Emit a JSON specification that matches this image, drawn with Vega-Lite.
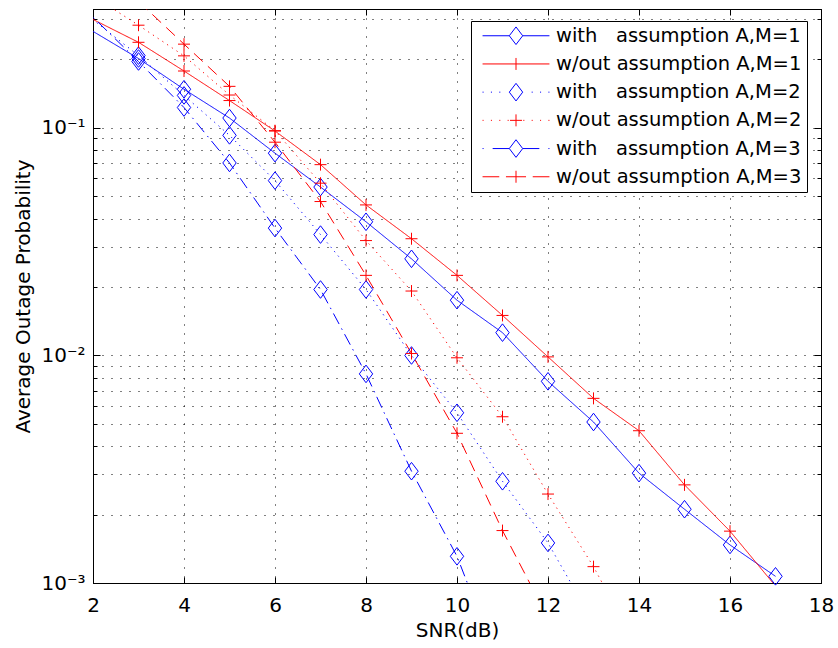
{
  "$schema": "https://vega.github.io/schema/vega-lite/v6.json",
  "width": 728,
  "height": 574,
  "autosize": {"type": "none"},
  "padding": {"left": 93, "top": 9, "right": 17, "bottom": 65},
  "background": "white",
  "config": {
    "view": {"stroke": "#000", "strokeWidth": 1},
    "font": "DejaVu Sans",
    "axis": {
      "domainColor": "#000", "tickColor": "#000", "labelColor": "#000", "titleColor": "#000",
      "labelFont": "DejaVu Sans", "titleFont": "DejaVu Sans", "labelFontSize": 20, "titleFontSize": 20,
      "titleFontWeight": "normal", "labelFlush": false, "labelOverlap": false, "labelBound": false,
      "gridColor": "#000", "gridDash": [1, 8], "gridOpacity": 1, "gridWidth": 1, "tickWidth": 1, "domainWidth": 1
    }
  },
  "data": {"values": [
    {"s": "with\u00a0\u00a0\u00a0assumption A,M=1", "x": 1, "y": 0.350},
    {"s": "with\u00a0\u00a0\u00a0assumption A,M=1", "x": 3, "y": 0.202},
    {"s": "with\u00a0\u00a0\u00a0assumption A,M=1", "x": 4, "y": 0.148},
    {"s": "with\u00a0\u00a0\u00a0assumption A,M=1", "x": 5, "y": 0.1106},
    {"s": "with\u00a0\u00a0\u00a0assumption A,M=1", "x": 6, "y": 0.0775},
    {"s": "with\u00a0\u00a0\u00a0assumption A,M=1", "x": 7, "y": 0.055},
    {"s": "with\u00a0\u00a0\u00a0assumption A,M=1", "x": 8, "y": 0.0387},
    {"s": "with\u00a0\u00a0\u00a0assumption A,M=1", "x": 9, "y": 0.0266},
    {"s": "with\u00a0\u00a0\u00a0assumption A,M=1", "x": 10, "y": 0.0175},
    {"s": "with\u00a0\u00a0\u00a0assumption A,M=1", "x": 11, "y": 0.0126},
    {"s": "with\u00a0\u00a0\u00a0assumption A,M=1", "x": 12, "y": 0.0077},
    {"s": "with\u00a0\u00a0\u00a0assumption A,M=1", "x": 13, "y": 0.0051},
    {"s": "with\u00a0\u00a0\u00a0assumption A,M=1", "x": 14, "y": 0.00304},
    {"s": "with\u00a0\u00a0\u00a0assumption A,M=1", "x": 15, "y": 0.00211},
    {"s": "with\u00a0\u00a0\u00a0assumption A,M=1", "x": 16, "y": 0.00147},
    {"s": "with\u00a0\u00a0\u00a0assumption A,M=1", "x": 17, "y": 0.00107},
    {"s": "w/out assumption A,M=1", "x": 1, "y": 0.378},
    {"s": "w/out assumption A,M=1", "x": 3, "y": 0.238},
    {"s": "w/out assumption A,M=1", "x": 4, "y": 0.178},
    {"s": "w/out assumption A,M=1", "x": 5, "y": 0.132},
    {"s": "w/out assumption A,M=1", "x": 6, "y": 0.097},
    {"s": "w/out assumption A,M=1", "x": 7, "y": 0.069},
    {"s": "w/out assumption A,M=1", "x": 8, "y": 0.0459},
    {"s": "w/out assumption A,M=1", "x": 9, "y": 0.0326},
    {"s": "w/out assumption A,M=1", "x": 10, "y": 0.0225},
    {"s": "w/out assumption A,M=1", "x": 11, "y": 0.0150},
    {"s": "w/out assumption A,M=1", "x": 12, "y": 0.00986},
    {"s": "w/out assumption A,M=1", "x": 13, "y": 0.00648},
    {"s": "w/out assumption A,M=1", "x": 14, "y": 0.00467},
    {"s": "w/out assumption A,M=1", "x": 15, "y": 0.0027},
    {"s": "w/out assumption A,M=1", "x": 16, "y": 0.00169},
    {"s": "w/out assumption A,M=1", "x": 17, "y": 0.00097},
    {"s": "with\u00a0\u00a0\u00a0assumption A,M=2", "x": 1, "y": 0.43},
    {"s": "with\u00a0\u00a0\u00a0assumption A,M=2", "x": 3, "y": 0.208},
    {"s": "with\u00a0\u00a0\u00a0assumption A,M=2", "x": 4, "y": 0.139},
    {"s": "with\u00a0\u00a0\u00a0assumption A,M=2", "x": 5, "y": 0.0928},
    {"s": "with\u00a0\u00a0\u00a0assumption A,M=2", "x": 6, "y": 0.0587},
    {"s": "with\u00a0\u00a0\u00a0assumption A,M=2", "x": 7, "y": 0.034},
    {"s": "with\u00a0\u00a0\u00a0assumption A,M=2", "x": 8, "y": 0.0195},
    {"s": "with\u00a0\u00a0\u00a0assumption A,M=2", "x": 9, "y": 0.0100},
    {"s": "with\u00a0\u00a0\u00a0assumption A,M=2", "x": 10, "y": 0.0056},
    {"s": "with\u00a0\u00a0\u00a0assumption A,M=2", "x": 11, "y": 0.0028},
    {"s": "with\u00a0\u00a0\u00a0assumption A,M=2", "x": 12, "y": 0.0015},
    {"s": "with\u00a0\u00a0\u00a0assumption A,M=2", "x": 13, "y": 0.00067},
    {"s": "w/out assumption A,M=2", "x": 1, "y": 0.51},
    {"s": "w/out assumption A,M=2", "x": 3, "y": 0.283},
    {"s": "w/out assumption A,M=2", "x": 4, "y": 0.2075},
    {"s": "w/out assumption A,M=2", "x": 5, "y": 0.1396},
    {"s": "w/out assumption A,M=2", "x": 6, "y": 0.0973},
    {"s": "w/out assumption A,M=2", "x": 7, "y": 0.0572},
    {"s": "w/out assumption A,M=2", "x": 8, "y": 0.032},
    {"s": "w/out assumption A,M=2", "x": 9, "y": 0.0192},
    {"s": "w/out assumption A,M=2", "x": 10, "y": 0.00977},
    {"s": "w/out assumption A,M=2", "x": 11, "y": 0.00538},
    {"s": "w/out assumption A,M=2", "x": 12, "y": 0.00246},
    {"s": "w/out assumption A,M=2", "x": 13, "y": 0.00118},
    {"s": "w/out assumption A,M=2", "x": 14, "y": 0.0005},
    {"s": "with\u00a0\u00a0\u00a0assumption A,M=3", "x": 1, "y": 0.48},
    {"s": "with\u00a0\u00a0\u00a0assumption A,M=3", "x": 3, "y": 0.196},
    {"s": "with\u00a0\u00a0\u00a0assumption A,M=3", "x": 4, "y": 0.123},
    {"s": "with\u00a0\u00a0\u00a0assumption A,M=3", "x": 5, "y": 0.0702},
    {"s": "with\u00a0\u00a0\u00a0assumption A,M=3", "x": 6, "y": 0.0363},
    {"s": "with\u00a0\u00a0\u00a0assumption A,M=3", "x": 7, "y": 0.0195},
    {"s": "with\u00a0\u00a0\u00a0assumption A,M=3", "x": 8, "y": 0.0083},
    {"s": "with\u00a0\u00a0\u00a0assumption A,M=3", "x": 9, "y": 0.0031},
    {"s": "with\u00a0\u00a0\u00a0assumption A,M=3", "x": 10, "y": 0.00131},
    {"s": "with\u00a0\u00a0\u00a0assumption A,M=3", "x": 11, "y": 0.0004},
    {"s": "w/out assumption A,M=3", "x": 3, "y": 0.36},
    {"s": "w/out assumption A,M=3", "x": 4, "y": 0.2336},
    {"s": "w/out assumption A,M=3", "x": 5, "y": 0.1524},
    {"s": "w/out assumption A,M=3", "x": 6, "y": 0.0866},
    {"s": "w/out assumption A,M=3", "x": 7, "y": 0.0475},
    {"s": "w/out assumption A,M=3", "x": 8, "y": 0.0225},
    {"s": "w/out assumption A,M=3", "x": 9, "y": 0.0102},
    {"s": "w/out assumption A,M=3", "x": 10, "y": 0.00455},
    {"s": "w/out assumption A,M=3", "x": 11, "y": 0.0017},
    {"s": "w/out assumption A,M=3", "x": 12, "y": 0.0007}
  ]},
  "layer": [
    {
      "mark": {"type": "line", "clip": true, "strokeWidth": 1},
      "encoding": {
        "x": {"field": "x", "type": "quantitative",
          "scale": {"domain": [2, 18], "nice": false, "zero": false},
          "axis": {"orient": "bottom", "values": [2, 4, 6, 8, 10, 12, 14, 16, 18], "grid": true, "tickSize": -6,
            "labelPadding": 34, "labelBaseline": "alphabetic", "title": "SNR(dB)", "titleY": 53, "titleBaseline": "alphabetic"}},
        "y": {"field": "y", "type": "quantitative",
          "scale": {"type": "log", "domain": [0.001, 0.3334], "nice": false},
          "axis": {"orient": "left",
            "values": [0.001, 0.002, 0.003, 0.004, 0.005, 0.006, 0.007, 0.008, 0.009, 0.01, 0.02, 0.03, 0.04, 0.05, 0.06, 0.07, 0.08, 0.09, 0.1, 0.2, 0.3],
            "grid": true,
            "tickSize": {"condition": {"test": "datum.value == 0.1 || datum.value == 0.01 || datum.value == 0.001", "value": -7}, "value": -4},
            "labelPadding": 15,
            "labelExpr": "datum.value == 0.1 ? '10\u207b\u00b9' : datum.value == 0.01 ? '10\u207b\u00b2' : datum.value == 0.001 ? '10\u207b\u00b3' : ''",
            "title": "Average Outage Probability", "titleX": -70, "titleY": 287, "titleBaseline": "middle"}},
        "stroke": {"field": "s", "type": "nominal", "sort": "ascending",
          "scale": {"range": ["#ff0000", "#ff0000", "#ff0000", "#0000ff", "#0000ff", "#0000ff"]},
          "legend": null},
        "strokeDash": {"field": "s", "type": "nominal", "sort": "ascending",
          "scale": {"range": [[1, 0], [1.2, 4.5], [12, 7], [1, 0], [1.2, 4.5], [12, 5, 1.5, 5]]},
          "legend": null}
      }
    },
    {
      "transform": [{"filter": "datum.x >= 2 && datum.y >= 0.001 && datum.y <= 0.3334 && indexof(datum.s, 'with') == 0"}],
      "mark": {"type": "point", "shape": "M0,-1L0.76,0L0,1L-0.76,0Z", "filled": false, "strokeWidth": 1, "size": 310, "opacity": 1},
      "encoding": {
        "x": {"field": "x", "type": "quantitative", "axis": null},
        "y": {"field": "y", "type": "quantitative", "axis": null},
        "stroke": {"field": "s", "type": "nominal", "sort": "ascending", "legend": null}
      }
    },
    {
      "transform": [{"filter": "datum.x >= 2 && datum.y >= 0.001 && datum.y <= 0.3334 && indexof(datum.s, 'w/out') == 0"}],
      "mark": {"type": "point", "shape": "M-0.68,0H0.68M0,-0.68V0.68", "filled": false, "strokeWidth": 1, "size": 310, "opacity": 1},
      "encoding": {
        "x": {"field": "x", "type": "quantitative", "axis": null},
        "y": {"field": "y", "type": "quantitative", "axis": null},
        "stroke": {"field": "s", "type": "nominal", "sort": "ascending", "legend": null}
      }
    },
    {
      "mark": {"type": "point", "opacity": 0, "size": 310, "filled": false, "strokeWidth": 1},
      "encoding": {
        "x": {"field": "x", "type": "quantitative",
          "axis": {"orient": "top", "values": [2, 4, 6, 8, 10, 12, 14, 16, 18], "grid": false, "labels": false, "tickSize": -6, "title": null}},
        "y": {"field": "y", "type": "quantitative",
          "axis": {"orient": "right",
            "values": [0.001, 0.002, 0.003, 0.004, 0.005, 0.006, 0.007, 0.008, 0.009, 0.01, 0.02, 0.03, 0.04, 0.05, 0.06, 0.07, 0.08, 0.09, 0.1, 0.2, 0.3],
            "grid": false, "labels": false,
            "tickSize": {"condition": {"test": "datum.value == 0.1 || datum.value == 0.01 || datum.value == 0.001", "value": -7}, "value": -4},
            "title": null}},
        "shape": {"field": "s", "type": "nominal",
          "scale": {"domain": ["with\u00a0\u00a0\u00a0assumption A,M=1", "w/out assumption A,M=1", "with\u00a0\u00a0\u00a0assumption A,M=2", "w/out assumption A,M=2", "with\u00a0\u00a0\u00a0assumption A,M=3", "w/out assumption A,M=3"],
            "range": [
              "M-3.8,0H-0.76M0.76,0H3.8M0,-1L0.76,0L0,1L-0.76,0Z",
              "M-3.8,0H3.8M0,-0.68V0.68",
              "M-3.8,0h0.12M-2.85,0h0.12M-1.9,0h0.12M1.78,0h0.12M2.73,0h0.12M3.68,0h0.12M0,-1L0.76,0L0,1L-0.76,0Z",
              "M-3.8,0h0.12M-2.85,0h0.12M-1.9,0h0.12M-0.95,0h0.12M0.83,0h0.12M1.78,0h0.12M2.73,0h0.12M3.68,0h0.12M0,-0.68V0.68M-0.68,0H0.68",
              "M-3.8,0h0.12M-2.65,0H-0.76M0.76,0H2.65M3.68,0h0.12M0,-1L0.76,0L0,1L-0.76,0Z",
              "M-3.8,0H-1.9M-1.14,0H1.14M1.9,0H3.8M0,-0.68V0.68"
            ]}},
        "color": {"field": "s", "type": "nominal",
          "scale": {"domain": ["with\u00a0\u00a0\u00a0assumption A,M=1", "w/out assumption A,M=1", "with\u00a0\u00a0\u00a0assumption A,M=2", "w/out assumption A,M=2", "with\u00a0\u00a0\u00a0assumption A,M=3", "w/out assumption A,M=3"],
            "range": ["#0000ff", "#ff0000", "#0000ff", "#ff0000", "#0000ff", "#ff0000"]},
          "legend": {
            "orient": "none", "legendX": 378, "legendY": 12, "title": null,
            "padding": 5, "strokeColor": "#000", "fillColor": "#fff", "rowPadding": 6.2,
            "labelFont": "DejaVu Sans", "labelFontSize": 19.5, "labelColor": "#000", "labelLimit": 500, "labelAlign": "left",
            "symbolSize": 310, "symbolOffset": 30.25, "labelOffset": 30.25, "symbolStrokeWidth": 1, "symbolOpacity": 1
          }}
      }
    }
  ],
  "resolve": {"axis": {"x": "independent", "y": "independent"}}
}
